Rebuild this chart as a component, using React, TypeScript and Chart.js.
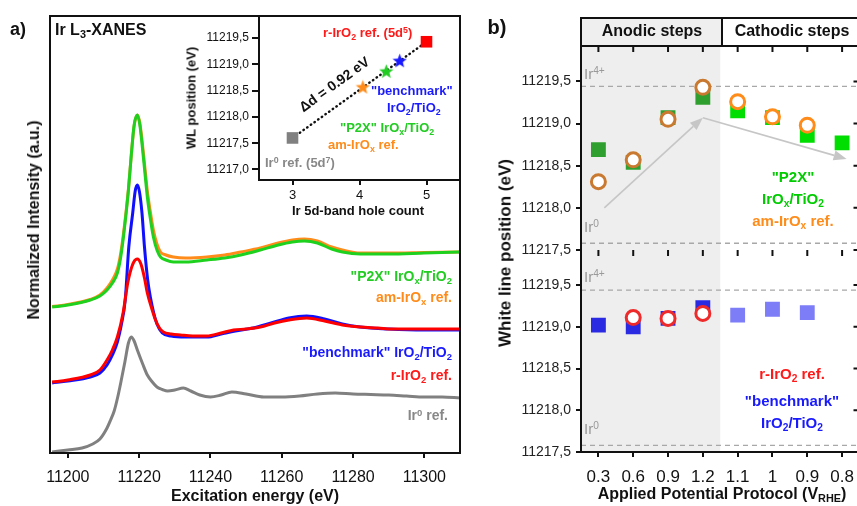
import React, { useEffect, useRef } from "react";
import { Chart, registerables } from "chart.js";
Chart.register(...registerables);

const FONT = "'Liberation Sans', Arial, Helvetica, sans-serif";
Chart.defaults.font.family = FONT;

// ---------- Panel a: Ir L3-XANES spectra (energy in eV, normalized intensity + vertical offset) ----------
const energyP2X = [11195.6, 11200, 11206.3, 11209, 11211, 11212.5, 11213.9, 11214.8, 11215.6, 11216.3, 11217, 11217.8, 11218.6, 11219.5, 11220.2, 11220.9, 11221.6, 11222.3, 11223.2, 11224, 11225, 11226, 11227.5, 11229.6, 11233, 11239, 11244, 11248.5, 11254, 11259, 11263, 11266.3, 11270, 11274, 11277, 11282, 11290, 11300, 11310];
const intensityP2X = [2.92, 2.96, 3.06, 3.14, 3.26, 3.4, 3.6, 3.9, 4.32, 4.76, 5.26, 5.96, 6.56, 6.76, 6.56, 6.12, 5.62, 5.12, 4.66, 4.32, 4.06, 3.92, 3.86, 3.82, 3.82, 3.86, 3.9, 3.96, 4.06, 4.16, 4.22, 4.24, 4.2, 4.08, 4.02, 3.98, 3.98, 4.0, 4.02];
const energyAmIrOx = [11195.6, 11200, 11206.3, 11209, 11211, 11212.5, 11213.9, 11214.8, 11215.6, 11216.3, 11217, 11217.8, 11218.6, 11219.5, 11220.2, 11220.9, 11221.6, 11222.3, 11223.2, 11224, 11225, 11226, 11227.5, 11229.6, 11233, 11239, 11244, 11248.5, 11254, 11259, 11263, 11266.3, 11270, 11274, 11277, 11282, 11290, 11300, 11310];
const intensityAmIrOx = [2.93, 2.97, 3.07, 3.16, 3.3, 3.46, 3.68, 3.98, 4.38, 4.8, 5.28, 5.96, 6.54, 6.76, 6.6, 6.2, 5.72, 5.24, 4.8, 4.46, 4.18, 4.02, 3.96, 3.92, 3.9, 3.92, 3.96, 4.02, 4.1, 4.2, 4.26, 4.28, 4.24, 4.12, 4.06, 4.0, 4.0, 4.01, 4.02];
const energyRIrO2 = [11195.6, 11200, 11206.3, 11209, 11211, 11212.5, 11213.9, 11215.5, 11216.8, 11217.5, 11218.5, 11219.5, 11220.5, 11221.5, 11222.3, 11223.5, 11224.6, 11225.7, 11226.8, 11229, 11231.6, 11235, 11239, 11243, 11246.5, 11250, 11254, 11258, 11262, 11267, 11272, 11277, 11282, 11287, 11291, 11300, 11310];
const intensityRIrO2 = [1.42, 1.46, 1.56, 1.66, 1.86, 2.06, 2.32, 2.8, 3.4, 3.62, 3.82, 3.88, 3.78, 3.5, 3.2, 2.9, 2.66, 2.5, 2.42, 2.38, 2.36, 2.34, 2.34, 2.4, 2.46, 2.48, 2.52, 2.6, 2.66, 2.7, 2.64, 2.56, 2.52, 2.5, 2.48, 2.48, 2.48];
const energyBenchmark = [11195.6, 11200, 11206.3, 11209, 11211, 11212.5, 11213.9, 11215, 11216.1, 11217.1, 11218.2, 11218.9, 11219.5, 11220.1, 11220.8, 11221.5, 11222.4, 11223.2, 11224.1, 11225, 11226.5, 11229, 11233, 11239, 11243, 11247, 11252, 11257, 11262, 11267, 11272, 11277, 11282, 11290, 11300, 11310];
const intensityBenchmark = [1.4, 1.44, 1.52, 1.6, 1.76, 1.96, 2.22, 2.56, 3.06, 4.12, 4.8, 5.24, 5.36, 5.22, 4.8, 4.12, 3.46, 3.1, 2.8, 2.58, 2.4, 2.34, 2.32, 2.32, 2.38, 2.44, 2.5, 2.6, 2.7, 2.74, 2.68, 2.58, 2.52, 2.48, 2.46, 2.46];
const energyIr0 = [11195.6, 11200, 11204, 11207, 11209, 11211, 11212, 11213, 11214, 11215, 11216, 11217, 11217.8, 11218.6, 11219.5, 11221, 11222.3, 11223.7, 11225, 11226.5, 11228, 11230, 11232.4, 11234.5, 11237, 11240, 11243, 11246, 11250, 11255, 11260, 11265, 11270, 11275, 11280, 11285, 11290, 11295, 11300, 11305, 11310];
const intensityIr0 = [0.02, 0.06, 0.1, 0.18, 0.28, 0.5, 0.66, 0.84, 1.12, 1.46, 1.82, 2.2, 2.32, 2.24, 2.06, 1.78, 1.56, 1.42, 1.32, 1.27, 1.24, 1.26, 1.3, 1.24, 1.16, 1.12, 1.16, 1.22, 1.18, 1.12, 1.12, 1.14, 1.18, 1.2, 1.18, 1.17, 1.16, 1.14, 1.12, 1.12, 1.1];
const energyTicks = [11200, 11220, 11240, 11260, 11280, 11300];

// ---------- Inset: WL position vs Ir 5d-band hole count ----------
const insetSamples = ["Ir0 ref.", "am-IrOx ref.", "P2X IrOx/TiO2", "benchmark IrO2/TiO2", "r-IrO2 ref."];
const holeCount = [3, 4.05, 4.4, 4.6, 5];
const wlPosition = [11217.6, 11218.57, 11218.87, 11219.07, 11219.43];
const holeTicks = [3, 4, 5];
const insetWLTicks = [11217.0, 11217.5, 11218.0, 11218.5, 11219.0, 11219.5];

// ---------- Panel b: white line position vs applied potential protocol ----------
const protocolLabels = ["0.3", "0.6", "0.9", "1.2", "1.1", "1", "0.9", "0.8"];
const stepIndex = [0, 1, 2, 3, 4, 5, 6, 7];
const anodicSteps = 4;
const p2xWL = [11218.69, 11218.54, 11219.07, 11219.31, 11219.15, 11219.07, 11218.86, 11218.77];
const amIrOxWL = [11218.31, 11218.57, 11219.05, 11219.43, 11219.26, 11219.08, 11218.98, null];
const benchmarkWL = [11219.02, 11219.0, 11219.1, 11219.23, 11219.14, 11219.21, 11219.17, null];
const rIrO2WL = [null, 11219.11, 11219.1, 11219.16, null, null, null, null];
const ir4Level = 11219.44;
const ir0Level = 11217.58;
const wlTicks = [11217.5, 11218.0, 11218.5, 11219.0, 11219.5];
const trendArrowPath = [[0.17, 11218.0], [3.0, 11219.07], [7.13, 11218.58]];

const pts = (xs: number[], ys: (number | null)[]) =>
  xs.map((x, i) => ({ x, y: ys[i] })).filter((p) => p.y !== null);

const commaFmt = (v: any) => Number(v).toFixed(1).replace(".", ",");

function starImage(color: string, size = 15) {
  const c = document.createElement("canvas");
  c.width = size;
  c.height = size;
  const ctx = c.getContext("2d")!;
  ctx.fillStyle = color;
  ctx.beginPath();
  for (let i = 0; i < 10; i++) {
    const r = i % 2 === 0 ? size / 2 : size / 4.6;
    const a = -Math.PI / 2 + (i * Math.PI) / 5;
    ctx.lineTo(size / 2 + r * Math.cos(a), size / 2 + 0.6 + r * Math.sin(a));
  }
  ctx.closePath();
  ctx.fill();
  return c;
}

function framePlugin(sides = { top: true, right: true, bottom: true, left: true }, fill?: string) {
  return {
    id: "frame",
    beforeDraw(chart: any) {
      if (!fill) return;
      const { ctx, chartArea: a } = chart;
      ctx.save();
      ctx.fillStyle = fill;
      ctx.fillRect(a.left, a.top, a.right - a.left, a.bottom - a.top);
      ctx.restore();
    },
    afterDraw(chart: any) {
      const { ctx, chartArea: a } = chart;
      ctx.save();
      ctx.strokeStyle = "#111";
      ctx.lineWidth = 2;
      ctx.lineCap = "square";
      ctx.beginPath();
      if (sides.top) { ctx.moveTo(a.left, a.top); ctx.lineTo(a.right, a.top); }
      if (sides.right) { ctx.moveTo(a.right, a.top); ctx.lineTo(a.right, a.bottom); }
      if (sides.bottom) { ctx.moveTo(a.left, a.bottom); ctx.lineTo(a.right, a.bottom); }
      if (sides.left) { ctx.moveTo(a.left, a.top); ctx.lineTo(a.left, a.bottom); }
      ctx.stroke();
      ctx.restore();
    },
  };
}

function drawArrow(ctx: CanvasRenderingContext2D, p: number[], q: number[]) {
  const ang = Math.atan2(q[1] - p[1], q[0] - p[0]);
  const L = 13, W = 5;
  const bx = q[0] - L * Math.cos(ang), by = q[1] - L * Math.sin(ang);
  ctx.beginPath();
  ctx.moveTo(p[0], p[1]);
  ctx.lineTo(bx, by);
  ctx.stroke();
  ctx.beginPath();
  ctx.moveTo(q[0], q[1]);
  ctx.lineTo(bx + W * Math.sin(ang), by - W * Math.cos(ang));
  ctx.lineTo(bx - W * Math.sin(ang), by + W * Math.cos(ang));
  ctx.closePath();
  ctx.fill();
}

function wlDecor(withArrows: boolean) {
  return {
    id: "wlDecor",
    beforeDatasetsDraw(chart: any) {
      const { ctx, chartArea: a, scales } = chart;
      const x = scales.x, y = scales.y;
      ctx.save();
      ctx.fillStyle = "#eeeeee";
      const xe = x.getPixelForValue(anodicSteps - 0.5);
      ctx.fillRect(a.left, a.top, xe - a.left, a.bottom - a.top);
      if (withArrows) {
        const p = trendArrowPath.map(([u, v]) => [x.getPixelForValue(u), y.getPixelForValue(v)]);
        ctx.strokeStyle = "#c6c6c6";
        ctx.fillStyle = "#c6c6c6";
        ctx.lineWidth = 1.6;
        for (let i = 0; i < p.length - 1; i++) drawArrow(ctx, p[i], p[i + 1]);
      }
      ctx.restore();
    },
    afterDraw(chart: any) {
      const { ctx, chartArea: a, scales } = chart;
      ctx.save();
      ctx.strokeStyle = "#111";
      ctx.lineWidth = 2;
      ctx.beginPath();
      stepIndex.forEach((i) => {
        const px = scales.x.getPixelForValue(i);
        ctx.moveTo(px, a.top);
        ctx.lineTo(px, a.top + 6);
      });
      wlTicks.forEach((v) => {
        const py = scales.y.getPixelForValue(v);
        ctx.moveTo(a.right, py);
        ctx.lineTo(a.right - 6, py);
      });
      ctx.stroke();
      ctx.restore();
    },
  };
}

function spectraConfig(): any {
  const line = (label: string, xs: number[], ys: number[], color: string) => ({
    label, data: pts(xs, ys), borderColor: color, backgroundColor: color,
    borderWidth: 3, pointRadius: 0, cubicInterpolationMode: "monotone",
  });
  return {
    type: "line",
    data: {
      datasets: [
        line('"P2X" IrOx/TiO2', energyP2X, intensityP2X, "#1fd11f"),
        line("am-IrOx ref.", energyAmIrOx, intensityAmIrOx, "#ff8c1a"),
        line("r-IrO2 ref.", energyRIrO2, intensityRIrO2, "#ff0000"),
        line('"benchmark" IrO2/TiO2', energyBenchmark, intensityBenchmark, "#1010ff"),
        line("Ir0 ref.", energyIr0, intensityIr0, "#808080"),
      ],
    },
    options: {
      responsive: false, animation: false,
      layout: { padding: { left: 50, top: 16, right: 10, bottom: 0 } },
      plugins: { legend: { display: false }, tooltip: { enabled: false } },
      scales: {
        x: {
          type: "linear", min: 11195, max: 11310,
          afterBuildTicks: (s: any) => { s.ticks = energyTicks.map((v) => ({ value: v })); },
          afterFit: (s: any) => { s.height = 53; },
          ticks: { font: { size: 16 }, color: "#111", padding: 10, maxRotation: 0, callback: (v: any) => String(v) },
          grid: { drawOnChartArea: false, tickLength: 5, color: "#111", lineWidth: 2 },
          border: { display: false },
        },
        y: { display: false, min: 0, max: 8.74 },
      },
    },
    plugins: [framePlugin()],
  };
}

function insetConfig(): any {
  const colors = ["#808080", "#ff8c1a", "#22cc22", "#1a1aff", "#ff0000"];
  const styles = ["rect", starImage("#ff8c1a"), starImage("#22cc22"), starImage("#1a1aff"), "rect"];
  return {
    type: "scatter",
    data: {
      datasets: [
        {
          label: "samples", data: pts(holeCount, wlPosition),
          pointStyle: styles, pointRadius: 8.2, backgroundColor: colors, borderWidth: 0,
        },
        {
          label: "trend", data: [
            { x: holeCount[0], y: wlPosition[0] },
            { x: holeCount[4], y: wlPosition[4] },
          ],
          showLine: true, pointRadius: 0, borderColor: "#111", borderWidth: 2.4,
          borderDash: [0.5, 4], borderCapStyle: "round",
        },
      ],
    },
    options: {
      responsive: false, animation: false,
      layout: { padding: { left: 0, top: 16, right: 10, bottom: 0 } },
      plugins: { legend: { display: false }, tooltip: { enabled: false } },
      scales: {
        x: {
          type: "linear", min: 2.5, max: 5.5,
          afterBuildTicks: (s: any) => { s.ticks = holeTicks.map((v) => ({ value: v })); },
          afterFit: (s: any) => { s.height = 35; },
          ticks: { font: { size: 13 }, color: "#111", padding: 3, callback: (v: any) => String(v) },
          grid: { drawOnChartArea: false, tickLength: 5, color: "#111", lineWidth: 2 },
          border: { display: false },
        },
        y: {
          min: 11216.8, max: 11219.92,
          afterBuildTicks: (s: any) => { s.ticks = insetWLTicks.map((v) => ({ value: v })); },
          afterFit: (s: any) => { s.width = 109; },
          ticks: { font: { size: 12 }, color: "#111", padding: 3, callback: commaFmt },
          grid: { drawOnChartArea: false, tickLength: 7, color: "#111", lineWidth: 2 },
          border: { display: false },
        },
      },
    },
    plugins: [framePlugin(undefined, "#ffffff")],
  };
}

function wlConfig(panel: "top" | "bottom"): any {
  const dark = (i: number) => i < anodicSteps;
  const refLine = (label: string, level: number) => ({
    label, data: [{ x: -0.5, y: level }, { x: 7.5, y: level }], showLine: true, pointRadius: 0,
    borderColor: "#a8a8a8", borderWidth: 1.3, borderDash: [5, 4],
  });
  const datasets =
    panel === "top"
      ? [
          {
            label: "am-IrOx ref.", data: pts(stepIndex, amIrOxWL), pointStyle: "circle", pointRadius: 7,
            borderWidth: 3, backgroundColor: "#ffffff",
            borderColor: stepIndex.map((i) => (dark(i) ? "#c97a30" : "#ff8c1a")),
          },
          {
            label: '"P2X" IrOx/TiO2', data: pts(stepIndex, p2xWL), pointStyle: "rect", pointRadius: 10.5,
            borderWidth: 0, backgroundColor: stepIndex.map((i) => (dark(i) ? "#2f9f2f" : "#00dd00")),
          },
          refLine("Ir4+", ir4Level),
          refLine("Ir0", ir0Level),
        ]
      : [
          {
            label: "r-IrO2 ref.", data: pts(stepIndex, rIrO2WL), pointStyle: "circle", pointRadius: 7,
            borderWidth: 3, backgroundColor: "#ffffff", borderColor: "#ee2a2a",
          },
          {
            label: '"benchmark" IrO2/TiO2', data: pts(stepIndex, benchmarkWL), pointStyle: "rect", pointRadius: 10.5,
            borderWidth: 0, backgroundColor: stepIndex.map((i) => (dark(i) ? "#2a2ae2" : "#7d7df7")),
          },
          refLine("Ir4+", ir4Level),
          refLine("Ir0", ir0Level),
        ];
  const isBottom = panel === "bottom";
  return {
    type: "scatter",
    data: { datasets },
    options: {
      responsive: false, animation: false,
      layout: { padding: { left: 0, top: 20, right: 7, bottom: isBottom ? 0 : 20 } },
      plugins: { legend: { display: false }, tooltip: { enabled: false } },
      scales: {
        x: {
          type: "linear", min: -0.5, max: 7.5, display: isBottom,
          afterBuildTicks: (s: any) => { s.ticks = stepIndex.map((v) => ({ value: v })); },
          afterFit: (s: any) => { s.height = isBottom ? 54 : 0; },
          ticks: { font: { size: 17 }, color: "#111", padding: 10, maxRotation: 0, autoSkip: false, callback: (v: any) => protocolLabels[v] ?? "" },
          grid: { drawOnChartArea: false, tickLength: 5, color: "#111", lineWidth: 2 },
          border: { display: false },
        },
        y: {
          min: 11217.5, max: 11219.92,
          afterBuildTicks: (s: any) => { s.ticks = wlTicks.map((v) => ({ value: v })); },
          afterFit: (s: any) => { s.width = 101; },
          ticks: { font: { size: 14 }, color: "#222", padding: 5, callback: commaFmt },
          grid: { drawOnChartArea: false, tickLength: 5, color: "#111", lineWidth: 2 },
          border: { display: false },
        },
      },
    },
    plugins: [
      framePlugin(isBottom ? { top: false, right: true, bottom: true, left: true } : { top: true, right: true, bottom: false, left: true }),
      wlDecor(!isBottom),
    ],
  };
}

function ChartBox({ left, top, width, height, make }: { left: number; top: number; width: number; height: number; make: () => any }) {
  const ref = useRef<HTMLCanvasElement>(null);
  useEffect(() => {
    const chart = new Chart(ref.current!, make());
    return () => chart.destroy();
  }, []);
  return <canvas ref={ref} width={width} height={height} style={{ position: "absolute", left, top, width, height }} />;
}

function Label({ x, y, align = "left", color = "#111", size = 14, bold = true, rotate = 0, children }: any) {
  const tx = align === "left" ? "0%" : align === "center" ? "-50%" : "-100%";
  return (
    <div
      style={{
        position: "absolute", left: x, top: y, whiteSpace: "nowrap", color, fontSize: size,
        fontWeight: bold ? 700 : 400, lineHeight: 1, fontFamily: FONT,
        transform: `translate(${tx},-50%)${rotate ? ` rotate(${rotate}deg)` : ""}`,
      }}
    >
      {children}
    </div>
  );
}

const Sub = ({ children }: any) => (
  <span style={{ fontSize: "0.68em", position: "relative", top: "0.32em" }}>{children}</span>
);
const Sup = ({ children }: any) => (
  <span style={{ fontSize: "0.68em", position: "relative", top: "-0.45em" }}>{children}</span>
);

export default function App() {
  const green = "#22cc22", orange = "#ff8c1a", blue = "#1a1aff", red = "#ff1a1a", gray = "#888888";
  return (
    <div style={{ position: "absolute", left: 0, top: 0, width: 857, height: 506, overflow: "hidden", background: "#fff", fontFamily: FONT }}>
      <ChartBox left={0} top={0} width={470} height={506} make={spectraConfig} />
      <ChartBox left={150} top={0} width={320} height={215} make={insetConfig} />
      <ChartBox left={480} top={26} width={390} height={244} make={() => wlConfig("top")} />
      <ChartBox left={480} top={230} width={390} height={276} make={() => wlConfig("bottom")} />

      {/* Panel a */}
      <Label x={18} y={29} size={18} align="center">a)</Label>
      <Label x={55} y={30} size={16}>Ir L<Sub>3</Sub>-XANES</Label>
      <Label x={34} y={220} size={16} align="center" rotate={-90}>Normalized Intensity (a.u.)</Label>
      <Label x={255} y={496} size={16} align="center">Excitation energy (eV)</Label>
      <Label x={452} y={276} color={green} align="right">"P2X" IrO<Sub>x</Sub>/TiO<Sub>2</Sub></Label>
      <Label x={452} y={297} color={orange} align="right">am-IrO<Sub>x</Sub> ref.</Label>
      <Label x={452} y={352} color={blue} align="right">"benchmark" IrO<Sub>2</Sub>/TiO<Sub>2</Sub></Label>
      <Label x={452} y={375} color={red} align="right">r-IrO<Sub>2</Sub> ref.</Label>
      <Label x={448} y={415} color={gray} align="right">Ir<Sup>0</Sup> ref.</Label>

      {/* Inset */}
      <Label x={191} y={98} size={13} align="center" rotate={-90}>WL position (eV)</Label>
      <Label x={358} y={210} size={13} align="center">Ir 5d-band hole count</Label>
      <Label x={323} y={32} size={13} color={red}>r-IrO<Sub>2</Sub> ref. (5d<Sup>5</Sup>)</Label>
      <Label x={371} y={90} size={13} color={blue}>"benchmark"</Label>
      <Label x={387} y={107} size={13} color={blue}>IrO<Sub>2</Sub>/TiO<Sub>2</Sub></Label>
      <Label x={340} y={127} size={13} color={green}>"P2X" IrO<Sub>x</Sub>/TiO<Sub>2</Sub></Label>
      <Label x={328} y={144} size={13} color={orange}>am-IrO<Sub>x</Sub> ref.</Label>
      <Label x={265} y={162} size={13} color={gray}>Ir<Sup>0</Sup> ref. (5d<Sup>7</Sup>)</Label>
      <Label x={334} y={84} size={14} align="center" rotate={-36}>Δd = 0.92 eV</Label>

      {/* Panel b */}
      <Label x={497} y={27} size={20} align="center">b)</Label>
      <div style={{ position: "absolute", left: 580, top: 17, width: 143, height: 30, background: "#efefef", border: "2px solid #111", boxSizing: "border-box" }} />
      <div style={{ position: "absolute", left: 721, top: 17, width: 150, height: 30, background: "#fff", border: "2px solid #111", boxSizing: "border-box" }} />
      <Label x={652} y={31} size={16} align="center">Anodic steps</Label>
      <Label x={792} y={31} size={16} align="center">Cathodic steps</Label>
      <Label x={505} y={253} size={17} align="center" rotate={-90}>White line position (eV)</Label>
      <Label x={722} y={494} size={16} align="center">Applied Potential Protocol (V<Sub>RHE</Sub>)</Label>

      <Label x={584} y={74} size={15} bold={false} color="#999">Ir<Sup>4+</Sup></Label>
      <Label x={584} y={227} size={15} bold={false} color="#999">Ir<Sup>0</Sup></Label>
      <Label x={584} y={277} size={15} bold={false} color="#999">Ir<Sup>4+</Sup></Label>
      <Label x={584} y={429} size={15} bold={false} color="#999">Ir<Sup>0</Sup></Label>

      <Label x={793} y={176} size={15} color="#00cc00" align="center">"P2X"</Label>
      <Label x={793} y={199} size={15} color="#00cc00" align="center">IrO<Sub>x</Sub>/TiO<Sub>2</Sub></Label>
      <Label x={793} y={221} size={15} color={orange} align="center">am-IrO<Sub>x</Sub> ref.</Label>
      <Label x={792} y={374} size={15} color={red} align="center">r-IrO<Sub>2</Sub> ref.</Label>
      <Label x={792} y={400} size={15} color={blue} align="center">"benchmark"</Label>
      <Label x={792} y={423} size={15} color={blue} align="center">IrO<Sub>2</Sub>/TiO<Sub>2</Sub></Label>
    </div>
  );
}
